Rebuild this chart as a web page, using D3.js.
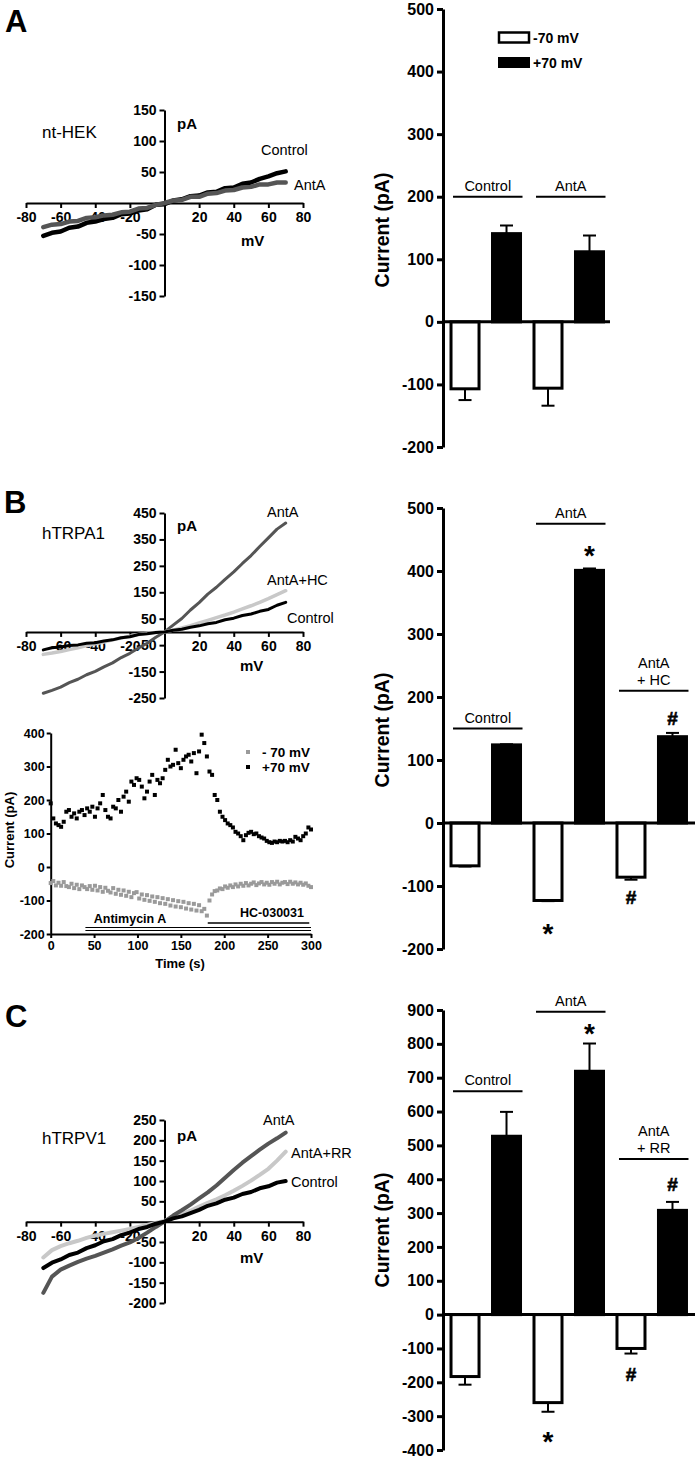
<!DOCTYPE html>
<html><head><meta charset="utf-8">
<script src="https://cdn.jsdelivr.net/npm/d3@7"></script>
<style>
body{margin:0;background:#fff}
svg{display:block;background:#fff}
text{font-family:"Liberation Sans",Arial,Helvetica,sans-serif;fill:#000}
</style>
</head><body>
<svg id="fig" width="697" height="1458"></svg>
<script>
// ---------- DATA ----------
const mV = [-70,-65,-60,-55,-50,-45,-40,-35,-30,-25,-20,-15,-10,-5,0,5,10,15,20,25,30,35,40,45,50,55,60,65,70];
const ivTicksX = [-80,-60,-40,-20,20,40,60,80];

// Panel A (nt-HEK)
const ivA_control = [-53,-48,-46,-40,-38,-32,-30,-26,-24,-18,-17,-12,-10,-3,-2,4,6,11,12,17,18,24,25,31,33,39,43,48,51];
const ivA_antA    = [-39,-35,-34,-30,-29,-24,-23,-20,-19,-15,-14,-9,-8,-3,0,4,5,10,10,15,16,20,21,25,26,30,30,33,33];
const ivA_ticksY = [-150,-100,-50,50,100,150];

// Panel B (hTRPA1)
const ivB_antA    = [-232,-221,-209,-192,-179,-162,-149,-132,-117,-97,-81,-61,-43,-20,0,26,51,83,111,143,169,199,227,259,289,323,356,389,412];
const ivB_antAHC  = [-85,-80,-74,-67,-60,-52,-45,-38,-30,-23,-16,-10,-5,-2,0,7,15,24,34,44,54,64,75,87,99,112,126,141,156];
const ivB_control = [-68,-60,-57,-51,-49,-43,-41,-34,-30,-22,-18,-10,-7,-2,0,6,10,18,23,31,36,46,52,62,68,78,85,101,112];
const ivB_ticksY = [-250,-150,-50,50,150,250,350,450];

// Panel C (hTRPV1)
const ivC_antA    = [-175,-135,-118,-108,-99,-91,-84,-76,-68,-59,-51,-40,-27,-13,0,15,28,42,57,72,89,108,127,145,161,177,192,205,219];
const ivC_antARR  = [-88,-70,-60,-53,-47,-40,-34,-30,-26,-22,-18,-13,-8,-3,2,10,18,27,37,46,55,65,76,88,101,115,130,150,172];
const ivC_control = [-114,-101,-93,-82,-76,-65,-58,-48,-43,-33,-27,-18,-13,-5,0,8,13,21,29,39,45,54,59,68,73,82,87,96,100];
const ivC_ticksY = [-200,-150,-100,-50,50,100,150,200,250];

// Time course (panel B)
const timeS = [0,3,6,9,12,15,18,21,24,27,30,33,36,39,42,45,48,51,54,57,60,63,66,69,72,75,78,81,84,87,90,93,96,99,102,105,108,111,114,117,120,123,126,129,132,135,138,141,144,147,150,153,156,159,162,165,168,171,174,177,180,183,186,189,192,195,198,201,204,207,210,213,216,219,222,225,228,231,234,237,240,243,246,249,252,255,258,261,264,267,270,273,276,279,282,285,288,291,294,297,300];
const tcPlus70 = [190,145,130,125,120,135,165,170,150,160,145,165,170,155,175,165,180,150,175,190,215,170,150,145,180,175,200,165,210,225,195,255,245,265,260,240,205,225,255,275,215,260,250,265,290,320,300,305,350,310,295,320,330,335,315,340,280,345,395,370,330,285,275,215,200,165,150,140,130,125,118,105,100,92,80,95,102,105,98,100,92,88,85,78,74,72,76,74,78,76,78,74,80,76,90,85,80,92,100,118,112];
const tcMinus70 = [-48,-42,-55,-47,-56,-45,-57,-60,-50,-63,-53,-66,-55,-60,-66,-57,-68,-56,-70,-60,-74,-62,-71,-76,-63,-80,-68,-83,-70,-86,-74,-90,-78,-75,-94,-82,-98,-84,-101,-88,-104,-90,-108,-93,-110,-96,-115,-99,-118,-102,-120,-104,-124,-108,-127,-110,-130,-114,-132,-125,-145,-100,-82,-72,-70,-64,-66,-58,-62,-55,-60,-52,-58,-50,-56,-48,-55,-50,-46,-54,-49,-45,-52,-47,-53,-45,-50,-44,-52,-47,-45,-51,-44,-50,-46,-52,-47,-53,-49,-56,-60];
const tcTicksX = [0,50,100,150,200,250,300];
const tcTicksY = [-200,-100,0,100,200,300,400];
const tcAntimycin = [40,300];
const tcHC = [181,298];

// Bar charts
const barKeys = ["ctrlNeg","ctrlPos","antNeg","antPos","trtNeg","trtPos"];
const barA_mean = [-107,141,-106,112];
const barA_err  = [18,13,28,26];
const barA_ticks = [-200,-100,0,100,200,300,400,500];
const barB_mean = [-68,124,-123,401,-86,137];
const barB_err  = [1,1,1,3,4,6];
const barB_ticks = [-200,-100,0,100,200,300,400,500];
const barC_mean = [-183,527,-260,719,-100,308];
const barC_err  = [24,72,27,82,15,25];
const barC_ticks = [-400,-300,-200,-100,0,100,200,300,400,500,600,700,800,900];

// ---------- DRAW ----------
const svg = d3.select("#fig");
const FONT = '"Liberation Sans",Arial,Helvetica,sans-serif';
const fmt = d => String(d);   // plain hyphen-minus, as in the reference

function styleAxis(g, fs, sw){
  g.selectAll(".domain").attr("stroke","#000").attr("stroke-width",sw);
  g.selectAll(".tick line").attr("stroke","#000").attr("stroke-width",sw);
  g.selectAll(".tick text").attr("font-family",FONT).attr("font-weight","bold").attr("font-size",fs).attr("fill","#000");
}

function label(txt, x, y, opts={}){
  const t = svg.append("text").attr("x",x).attr("y",y).text(txt)
    .attr("dominant-baseline","central")
    .attr("font-size",opts.size||14)
    .attr("font-weight",opts.bold?"bold":"normal")
    .attr("text-anchor",opts.anchor||"start");
  if(opts.rotate){ t.attr("transform",`rotate(-90,${x},${y})`).attr("text-anchor","middle"); }
  return t;
}

// Panel letters
label("A",5,21,{size:31,bold:true});
label("B",4,502,{size:31,bold:true});
label("C",5,1016,{size:31,bold:true});

// ---- IV panels ----
const ivX = d3.scaleLinear().domain([-80,80]).range([26,303]);
function ivPanel(yDomain, yRange, yTicks, series){
  const y = d3.scaleLinear().domain(yDomain).range(yRange);
  const g = svg.append("g");
  const ax = g.append("g").attr("transform",`translate(0,${y(0)})`)
    .call(d3.axisBottom(ivX).tickValues(ivTicksX).tickSize(5).tickPadding(4).tickSizeOuter(0).tickFormat(fmt));
  styleAxis(ax,14,2);
  const ay = g.append("g").attr("transform",`translate(${ivX(0)},0)`)
    .call(d3.axisLeft(y).tickValues(yTicks).tickSize(5).tickPadding(3).tickSizeOuter(0).tickFormat(fmt));
  styleAxis(ay,14,2);
  const line = d3.line().x((d,i)=>ivX(mV[i])).y(d=>y(d)).curve(d3.curveLinear);
  series.forEach(s=>{
    g.append("path").datum(s.values).attr("d",line).attr("fill","none")
      .attr("stroke",s.color).attr("stroke-width",s.width||3.5)
      .attr("stroke-linejoin","round").attr("stroke-linecap","round");
  });
  return y;
}

// Panel A IV
ivPanel([-150,150],[296,110],ivA_ticksY,[
  {values:ivA_control,color:"#000",width:4.5},
  {values:ivA_antA,color:"#555",width:4.5}
]);
label("pA",177,123,{size:15,bold:true});
label("mV",241,240,{size:15,bold:true});
label("nt-HEK",42,132,{size:17});
label("Control",261,150,{size:14.5});
label("AntA",294,185,{size:14.5});

// Panel B IV
ivPanel([-250,450],[698,513],ivB_ticksY,[
  {values:ivB_antA,color:"#555",width:3},
  {values:ivB_antAHC,color:"#c8c8c8",width:3.5},
  {values:ivB_control,color:"#000",width:3}
]);
label("pA",177,525,{size:15,bold:true});
label("mV",240,665,{size:15,bold:true});
label("hTRPA1",42,533,{size:17});
label("AntA",267,512,{size:14.5});
label("AntA+HC",267,580,{size:14.5});
label("Control",287,618,{size:14.5});

// Panel C IV
ivPanel([-200,250],[1303,1120],ivC_ticksY,[
  {values:ivC_antARR,color:"#c8c8c8",width:4},
  {values:ivC_antA,color:"#555",width:4},
  {values:ivC_control,color:"#000",width:4}
]);
label("pA",177,1135,{size:15,bold:true});
label("mV",240,1257,{size:15,bold:true});
label("hTRPV1",42,1138,{size:17});
label("AntA",263,1120,{size:14.5});
label("AntA+RR",291,1153,{size:14.5});
label("Control",291,1182,{size:14.5});

// ---- Time course ----
(function(){
  const x = d3.scaleLinear().domain([0,300]).range([50.7,311]);
  const y = d3.scaleLinear().domain([-200,400]).range([934,733]);
  const g = svg.append("g");
  const ax = g.append("g").attr("transform",`translate(0,${y(-200)})`)
    .call(d3.axisBottom(x).tickValues(tcTicksX).tickSize(4).tickPadding(3).tickSizeOuter(0).tickFormat(fmt));
  styleAxis(ax,12.5,2);
  const ay = g.append("g").attr("transform",`translate(${x(0)},0)`)
    .call(d3.axisLeft(y).tickValues(tcTicksY).tickSize(4).tickPadding(2).tickSizeOuter(0).tickFormat(fmt));
  styleAxis(ay,12.5,2);
  const sq = 4;
  g.selectAll("rect.m70").data(tcMinus70).join("rect").attr("class","m70")
    .attr("x",(d,i)=>x(timeS[i])-sq/2).attr("y",d=>y(d)-sq/2).attr("width",sq).attr("height",sq).attr("fill","#9a9a9a");
  g.selectAll("rect.p70").data(tcPlus70).join("rect").attr("class","p70")
    .attr("x",(d,i)=>x(timeS[i])-sq/2).attr("y",d=>y(d)-sq/2).attr("width",sq).attr("height",sq).attr("fill","#000");
  // drug bars
  g.append("line").attr("x1",x(tcAntimycin[0])).attr("x2",x(tcAntimycin[1])).attr("y1",927.5).attr("y2",927.5).attr("stroke","#000").attr("stroke-width",1.2);
  g.append("line").attr("x1",x(tcAntimycin[0])).attr("x2",x(tcAntimycin[1])).attr("y1",930.5).attr("y2",930.5).attr("stroke","#000").attr("stroke-width",1.2);
  g.append("line").attr("x1",x(tcHC[0])).attr("x2",x(tcHC[1])).attr("y1",923).attr("y2",923).attr("stroke","#000").attr("stroke-width",1.5);
  label("Antimycin A",130,919,{size:12.5,bold:true,anchor:"middle"});
  label("HC-030031",272,913,{size:12.5,bold:true,anchor:"middle"});
  label("Time (s)",180,963,{size:13,bold:true,anchor:"middle"});
  label("Current (pA)",9,830,{size:13,bold:true,rotate:true});
  // legend
  g.append("rect").attr("x",246).attr("y",750).attr("width",4).attr("height",4).attr("fill","#9a9a9a");
  g.append("rect").attr("x",246).attr("y",765).attr("width",4).attr("height",4).attr("fill","#000");
  label("- 70 mV",262,752,{size:13.5,bold:true});
  label("+70 mV",262,767,{size:13.5,bold:true});
})();

// ---- Bar charts ----
const bx = d3.scaleBand().domain(barKeys).range([445,692.5]).paddingInner(0.325).paddingOuter(0.145);
function barPanel(yDomain, yRange, ticks, means, errs, axisEnd){
  const y = d3.scaleLinear().domain(yDomain).range(yRange);
  const g = svg.append("g");
  const keys = barKeys.slice(0, means.length);
  const bw = bx.bandwidth();
  keys.forEach((k,i)=>{
    const v = means[i], e = errs[i];
    const neg = v < 0;
    const xc = bx(k) + bw/2;
    const yEnd = neg ? y(v - e) : y(v + e);
    g.append("line").attr("x1",xc).attr("x2",xc).attr("y1",y(v)).attr("y2",yEnd).attr("stroke","#000").attr("stroke-width",2);
    g.append("line").attr("x1",xc-6.5).attr("x2",xc+6.5).attr("y1",yEnd).attr("y2",yEnd).attr("stroke","#000").attr("stroke-width",2);
    g.append("rect").attr("x",bx(k)).attr("width",bw)
      .attr("y",Math.min(y(0),y(v))).attr("height",Math.abs(y(v)-y(0)))
      .attr("fill",neg?"#fff":"#000").attr("stroke","#000").attr("stroke-width",3);
  });
  g.append("line").attr("x1",443).attr("x2",axisEnd).attr("y1",y(0)).attr("y2",y(0)).attr("stroke","#000").attr("stroke-width",3);
  const ay = g.append("g").attr("transform","translate(443,0)")
    .call(d3.axisLeft(y).tickValues(ticks).tickSize(6).tickPadding(3).tickSizeOuter(0).tickFormat(fmt));
  styleAxis(ay,16,3);
  return y;
}
function groupLabel(y, k1, k2, lineVal, lines){
  const x1 = bx(k1)+2, x2 = bx(k2)+bx.bandwidth()+2;
  const yl = y(lineVal);
  svg.append("line").attr("x1",x1).attr("x2",x2).attr("y1",yl).attr("y2",yl).attr("stroke","#000").attr("stroke-width",2);
  lines.forEach((t,i)=>{
    label(t,(x1+x2)/2,yl-11-(lines.length-1-i)*17,{size:14.5,anchor:"middle"});
  });
}
function star(y, k, val){
  const xc = bx(k)+bx.bandwidth()/2;
  svg.append("text").attr("x",xc).attr("y",y(val)+14).attr("text-anchor","middle")
    .attr("font-size",28).attr("font-weight","bold").text("*");
}
function hash(y, k, val){
  const xc = bx(k)+bx.bandwidth()/2;
  svg.append("text").attr("x",xc).attr("y",y(val)+7).attr("text-anchor","middle")
    .attr("font-size",19).attr("font-weight","bold").attr("stroke","#000").attr("stroke-width",0.6).text("#");
}

// Panel A bars
const yA = barPanel([-200,500],[447,9],barA_ticks,barA_mean,barA_err,610);
label("Current (pA)",382,230,{size:19.5,bold:true,rotate:true});
groupLabel(yA,"ctrlNeg","ctrlPos",200,["Control"]);
groupLabel(yA,"antNeg","antPos",200,["AntA"]);
svg.append("rect").attr("x",499).attr("y",32.5).attr("width",30).attr("height",10).attr("fill","#fff").attr("stroke","#000").attr("stroke-width",2.5);
svg.append("rect").attr("x",498).attr("y",57).attr("width",32).attr("height",11).attr("fill","#000");
label("-70 mV",533,38,{size:14,bold:true});
label("+70 mV",533,63,{size:14,bold:true});

// Panel B bars
const yB = barPanel([-200,500],[949,508],barB_ticks,barB_mean,barB_err,695);
label("Current (pA)",382,730,{size:19.5,bold:true,rotate:true});
groupLabel(yB,"ctrlNeg","ctrlPos",150,["Control"]);
groupLabel(yB,"antNeg","antPos",475,["AntA"]);
groupLabel(yB,"trtNeg","trtPos",210,["AntA","+ HC"]);
star(yB,"antPos",431);
star(yB,"antNeg",-169);
hash(yB,"trtPos",167);
hash(yB,"trtNeg",-117);

// Panel C bars
const yC = barPanel([-400,900],[1450,1010],barC_ticks,barC_mean,barC_err,695);
label("Current (pA)",382,1230,{size:19.5,bold:true,rotate:true});
groupLabel(yC,"ctrlNeg","ctrlPos",660,["Control"]);
groupLabel(yC,"antNeg","antPos",895,["AntA"]);
groupLabel(yC,"trtNeg","trtPos",460,["AntA","+ RR"]);
star(yC,"antPos",843);
star(yC,"antNeg",-361);
hash(yC,"trtPos",385);
hash(yC,"trtNeg",-175);
</script>
</body></html>
